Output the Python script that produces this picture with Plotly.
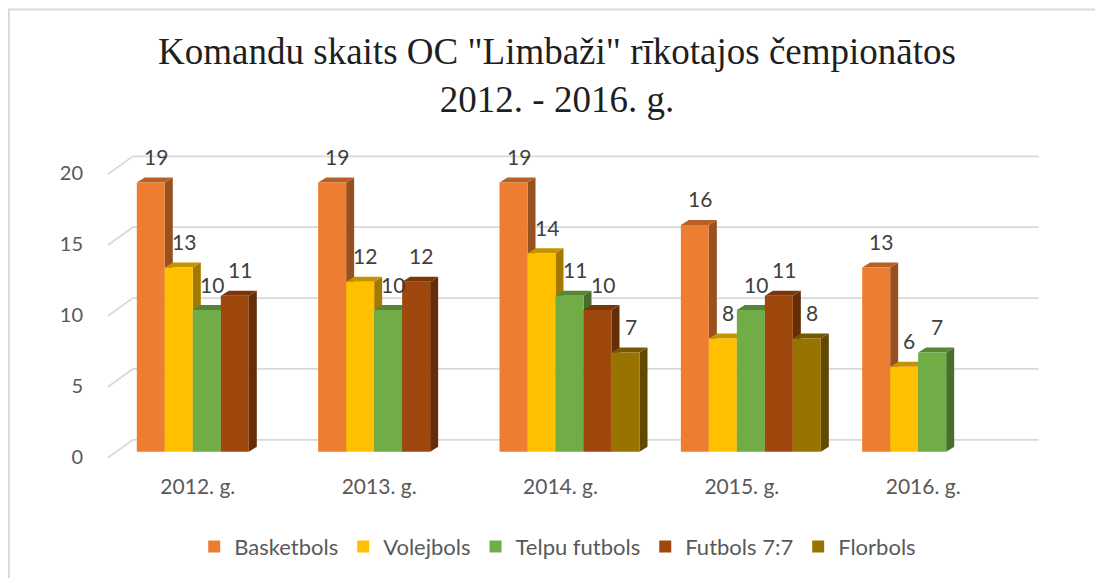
import plotly.graph_objects as go

# ---------------- data ----------------
categories = ["2012. g.", "2013. g.", "2014. g.", "2015. g.", "2016. g."]
series_names = ["Basketbols", "Volejbols", "Telpu futbols", "Futbols 7:7", "Florbols"]
basketbols = [19, 19, 19, 16, 13]
volejbols = [13, 12, 14, 8, 6]
telpu_futbols = [10, 10, 11, 10, 7]
futbols_77 = [11, 12, 10, 11, None]
florbols = [None, None, 7, 8, None]
y_ticks = [0, 5, 10, 15, 20]

series_values = [basketbols, volejbols, telpu_futbols, futbols_77, florbols]
front_colors = ["#ED7D31", "#FFC000", "#70AD47", "#9E480E", "#997300"]


def shade(hex_color, f):
    h = hex_color.lstrip("#")
    r, g, b = (int(h[i:i + 2], 16) for i in (0, 2, 4))
    return "#%02X%02X%02X" % (int(r * f), int(g * f), int(b * f))


side_colors = [shade(c, 0.64) for c in front_colors]
top_colors = [shade(c, 0.77) for c in front_colors]

# ---------------- geometry (page pixels) ----------------
PAGE_W, PAGE_H = 1103, 578
OFF = 8                      # default body margin of the html page
W, H = PAGE_W - OFF, PAGE_H - OFF
y0_px = 452                  # page pixel of value 0 (front face base)
ppu_y = 14.2                 # pixels per unit
cat0_px = 207.0              # page pixel centre of first category
ppu_x = 181.4                # pixels per category
y_range = [-1.0, 21.5]
x_range = [-0.6, 4.6]

plot_top = y0_px - y_range[1] * ppu_y
plot_bot = y0_px - y_range[0] * ppu_y
plot_left = cat0_px + x_range[0] * ppu_x
plot_right = cat0_px + x_range[1] * ppu_x

bargap = 0.228
n_series = len(series_names)
bar_w = (1 - bargap) / n_series

depth_dx = 8 / ppu_x
depth_dy = 5 / ppu_y


def px_to_x(px):
    return (px - cat0_px) / ppu_x


def px_to_paper_x(px):
    return (px - plot_left) / (plot_right - plot_left)


def px_to_paper_y(py):
    return (plot_bot - py) / (plot_bot - plot_top)


fig = go.Figure()

x_idx = list(range(len(categories)))
for j, (name, vals) in enumerate(zip(series_names, series_values)):
    fig.add_trace(go.Bar(
        name=name, x=x_idx, y=vals,
        marker=dict(color=front_colors[j], line=dict(width=0)),
        hoverinfo="name+y",
    ))

shapes = []
# back-wall gridlines
for t in y_ticks:
    path = "M %f,%f L %f,%f L %f,%f" % (
        px_to_x(108), t - 6 / ppu_y,
        px_to_x(133), t + 12 / ppu_y,
        px_to_x(1039), t + 12 / ppu_y,
    )
    shapes.append(dict(type="path", path=path, xref="x", yref="y", layer="below",
                       line=dict(color="#D9D9D9", width=1.8)))

annotations = []
for j, vals in enumerate(series_values):
    for i, v in enumerate(vals):
        if v is None:
            continue
        xc = i - (1 - bargap) / 2 + bar_w * (j + 0.5)
        xl, xr = xc - bar_w / 2, xc + bar_w / 2
        side = "M %f,0 L %f,%f L %f,%f L %f,%f Z" % (
            xr, xr + depth_dx, depth_dy, xr + depth_dx, v + depth_dy, xr, v)
        top = "M %f,%f L %f,%f L %f,%f L %f,%f Z" % (
            xl, v, xr, v, xr + depth_dx, v + depth_dy, xl + depth_dx, v + depth_dy)
        shapes.append(dict(type="path", path=side, xref="x", yref="y", layer="below",
                           fillcolor=side_colors[j], line=dict(width=0)))
        shapes.append(dict(type="path", path=top, xref="x", yref="y", layer="below",
                           fillcolor=top_colors[j], line=dict(width=0)))
        annotations.append(dict(x=xc, y=v, xref="x", yref="y", text=str(v),
                                showarrow=False, xshift=5, yshift=26, yanchor="middle",
                                font=dict(family="Lato", size=21, color="#404040")))

# chart border
shapes.append(dict(type="path", xref="paper", yref="paper", layer="above",
                   path="M %f,%f L %f,%f L %f,%f" % (
                       px_to_paper_x(9), px_to_paper_y(PAGE_H + 5),
                       px_to_paper_x(9), px_to_paper_y(9),
                       px_to_paper_x(PAGE_W + 5), px_to_paper_y(9)),
                   line=dict(color="#D9D9D9", width=2)))

fig.update_layout(
    width=W, height=H,
    margin=dict(l=plot_left - OFF, r=PAGE_W - plot_right, t=plot_top - OFF,
                b=PAGE_H - plot_bot, pad=0, autoexpand=False),
    paper_bgcolor="white", plot_bgcolor="rgba(0,0,0,0)",
    barmode="group", bargap=bargap, bargroupgap=0,
    title=dict(text="Komandu skaits OC \"Limbaži\" rīkotajos čempionātos<br>2012. - 2016. g.",
               x=(557 - OFF) / W, xanchor="center", xref="container",
               y=1 - 56 / H, yanchor="top", yref="container",
               font=dict(family="Liberation Serif", size=37, color="#1F1F1F")),
    xaxis=dict(range=x_range, tickvals=x_idx, ticktext=categories, showgrid=False,
               zeroline=False, showline=False, ticks="", ticklabelstandoff=6,
               ticklabelshift=-9,
               tickfont=dict(family="Lato", size=21, color="#595959")),
    yaxis=dict(range=y_range, tickvals=y_ticks, showgrid=False, zeroline=False,
               showline=False, ticks="", ticklabelstandoff=14, ticklabelshift=5,
               tickfont=dict(family="Lato", size=20, color="#595959")),
    legend=dict(orientation="h", x=px_to_paper_x(558), xanchor="center",
                y=px_to_paper_y(547), yanchor="middle", itemwidth=30,
                font=dict(family="Lato", size=22, color="#595959"),
                bgcolor="rgba(0,0,0,0)"),
    shapes=shapes, annotations=annotations,
    showlegend=True,
)

fig.write_html("out.html")
